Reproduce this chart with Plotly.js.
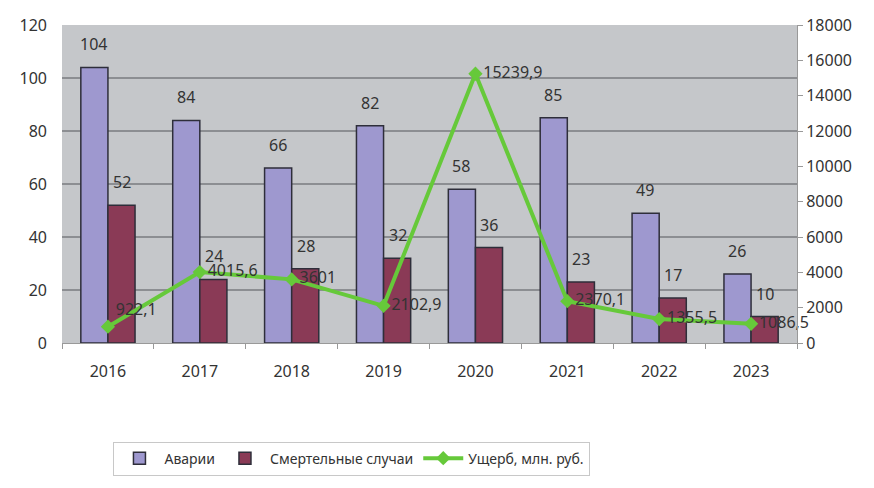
<!DOCTYPE html>
<html>
<head>
<meta charset="utf-8">
<script src="https://cdn.plot.ly/plotly-3.0.1.min.js"></script>
<style>html,body{margin:0;padding:0;background:#fff;}#chart{width:874px;height:488px;}</style>
</head>
<body>
<div id="chart"></div>
<script>
const years = ["2016","2017","2018","2019","2020","2021","2022","2023"];
const accidents = [104, 84, 66, 82, 58, 85, 49, 26];
const deaths = [52, 24, 28, 32, 36, 23, 17, 10];
const damage = [922.1, 4015.6, 3601, 2102.9, 15239.9, 2370.1, 1355.5, 1086.5];
const damageLabels = ["922,1", "4015,6", "3601", "2102,9", "15239,9", "2370,1", "1355,5", "1086,5"];
const damagePos = ["top right","middle right","middle right","middle right","middle right","middle right","middle right","middle right"];

const font = "Noto Sans, Open Sans, sans-serif";
const data = [
  {type:"bar", name:"Аварии", x:years, y:accidents,
   marker:{color:"#9e98cf", line:{color:"#2e2e3a", width:1.5}}},
  {type:"bar", name:"Смертельные случаи", x:years, y:deaths,
   marker:{color:"#8a3a56", line:{color:"#2e2e3a", width:1.5}}},
  {type:"scatter", mode:"lines+markers+text", name:"Ущерб, млн. руб.", x:years, y:damage, yaxis:"y2",
   text:damageLabels, textposition:damagePos, cliponaxis:false,
   textfont:{size:16, color:"#333", family:font},
   line:{color:"#66c93a", width:4}, marker:{symbol:"diamond", size:11, color:"#66c93a"}}
];
const annotations = [];
years.forEach((yr, i) => {
  annotations.push({x:i, y:accidents[i], xref:"x", yref:"y", text:String(accidents[i]),
    showarrow:false, xshift:-14, yshift:23, font:{size:16, color:"#333", family:font}});
  annotations.push({x:i, y:deaths[i], xref:"x", yref:"y", text:String(deaths[i]),
    showarrow:false, xshift:14, yshift:23, font:{size:16, color:"#333", family:font}});
});
const layout = {
  width:874, height:488,
  margin:{l:62, r:77, t:25, b:143},
  paper_bgcolor:"#fff", plot_bgcolor:"#c5c7ca",
  barmode:"group", bargap:0.41, bargroupgap:0,
  font:{family:font, color:"#333", size:15},
  showlegend:true,
  annotations:annotations,
  legend:{orientation:"h", x:0.07, xanchor:"left", y:-0.31, yanchor:"top",
    bordercolor:"#c8c8c8", borderwidth:1, bgcolor:"#fff", itemwidth:40,
    font:{size:14, color:"#333", family:font}},
  xaxis:{type:"category", categoryorder:"array", categoryarray:years, range:[-0.5, years.length-0.5],
    tickson:"boundaries", ticks:"outside", ticklen:5, tickcolor:"#999",
    showgrid:false, showline:true, linecolor:"#999", tickfont:{size:16, color:"#333"},
    ticklabelstandoff:14},
  yaxis:{range:[0,120], dtick:20, gridcolor:"#8c8e92", gridwidth:1.5, zeroline:false,
    ticks:"", tickfont:{size:16, color:"#333"}, showline:false, ticklabelstandoff:14},
  yaxis2:{range:[0,18000], dtick:2000, tickformat:"d", overlaying:"y", side:"right", showgrid:false, zeroline:false,
    ticks:"outside", ticklen:5, tickcolor:"#999", showline:true, linecolor:"#999",
    tickfont:{size:16, color:"#333"}}
};
Plotly.newPlot("chart", data, layout, {displayModeBar:false, staticPlot:true});
</script>
</body>
</html>
